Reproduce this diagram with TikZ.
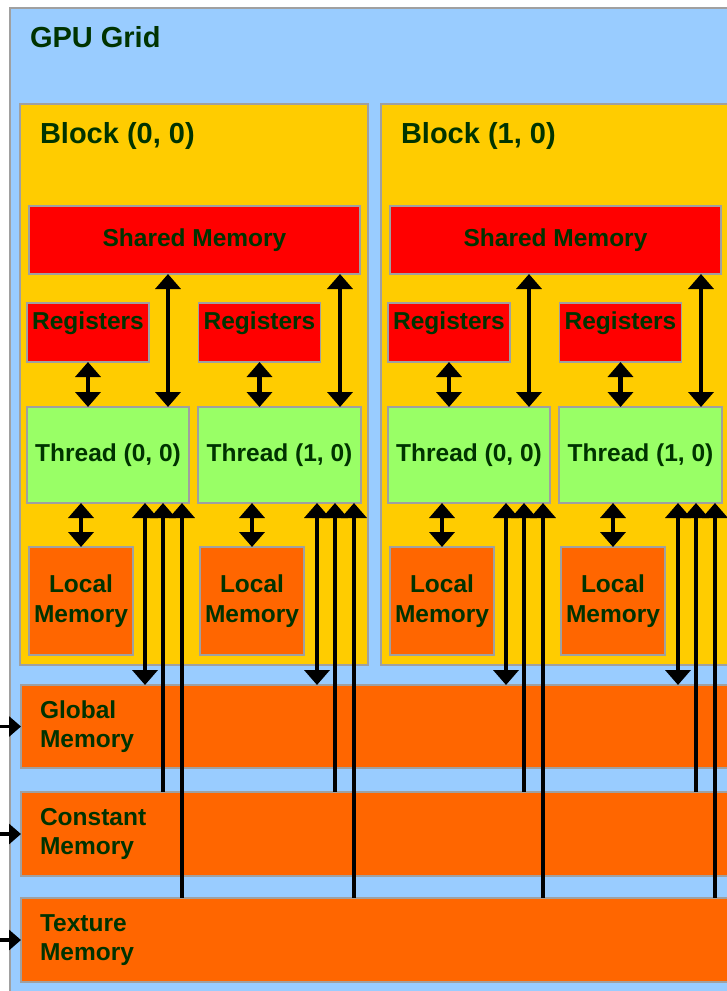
\documentclass[tikz,border=0pt]{standalone}
\usepackage{fontspec}
\setmainfont{Liberation Sans}
\usetikzlibrary{arrows.meta}
\definecolor{gridblue}{HTML}{99CCFF}
\definecolor{blockyellow}{HTML}{FFCC00}
\definecolor{memred}{HTML}{FF0000}
\definecolor{thrgreen}{HTML}{99FF66}
\definecolor{memorange}{HTML}{FF6600}
\definecolor{bordergray}{HTML}{A0A0A0}
\definecolor{txtgreen}{HTML}{003300}
\begin{document}
\begin{tikzpicture}[x=1pt,y=-1pt,
  box/.style={draw=bordergray, line width=1.5pt, inner sep=0pt, outer sep=0pt},
  txt/.style={text=txtgreen, inner sep=0pt, outer sep=0pt, font=\bfseries\fontsize{24.5}{29.5}\selectfont},
  ttl/.style={text=txtgreen, inner sep=0pt, outer sep=0pt, font=\bfseries\fontsize{29}{34}\selectfont},
  tip/.tip={Triangle[width=25pt,length=15pt]},
  dbl/.style={line width=4.5pt, tip-tip},
  uparr/.style={line width=4.5pt, tip-},
  inarr/.style={line width=3.5pt, -{Triangle[width=20pt,length=12pt]}}
]
\useasboundingbox (0,0) rectangle (727,991);
\clip (0,0) rectangle (727,991);
% grid
\node[box, fill=gridblue, minimum width=760pt, minimum height=1010pt] (grid) at (390,513) {};
\node[ttl, anchor=base west] (gridt) at (30,47) {GPU Grid};
% blocks
\foreach \dx/\b/\bn in {0/a/0,361/b/1}{
  \node[box, fill=blockyellow, minimum width=348pt, minimum height=561pt] (blk\b) at (194+\dx,384.5) {};
  \node[ttl, anchor=base west] (blkt\b) at (40+\dx,143) {Block (\bn, 0)};
  \node[box, fill=memred, minimum width=331pt, minimum height=68pt, txt] (shm\b) at (194.5+\dx,240) {Shared Memory};
  \node[box, fill=memred, minimum width=122pt, minimum height=59pt] (rga\b) at (88+\dx,332.5) {};
  \node[box, fill=memred, minimum width=122pt, minimum height=59pt] (rgb\b) at (259.5+\dx,332.5) {};
  \node[txt, anchor=base] (rgta\b) at (88+\dx,329) {Registers};
  \node[txt, anchor=base] (rgtb\b) at (259.5+\dx,329) {Registers};
  \node[box, fill=thrgreen, minimum width=162pt, minimum height=96pt, txt] (tha\b) at (108+\dx,455) {Thread (0, 0)};
  \node[box, fill=thrgreen, minimum width=163pt, minimum height=96pt, txt] (thb\b) at (279.5+\dx,455) {Thread (1, 0)};
  \node[box, fill=memorange, minimum width=104pt, minimum height=108pt, txt, align=center] (lca\b) at (81+\dx,601) {Local\\Memory};
  \node[box, fill=memorange, minimum width=104pt, minimum height=108pt, txt, align=center] (lcb\b) at (252+\dx,601) {Local\\Memory};
}
% device memories
\node[box, fill=memorange, minimum width=740pt, minimum height=83pt] (glob) at (391,726.5) {};
\node[box, fill=memorange, minimum width=740pt, minimum height=84pt] (cons) at (391,834) {};
\node[box, fill=memorange, minimum width=740pt, minimum height=84pt] (text) at (391,940) {};
\node[txt, anchor=west, align=left] (globt) at (40,726.5) {Global\\Memory};
\node[txt, anchor=west, align=left] (const) at (40,834) {Constant\\Memory};
\node[txt, anchor=west, align=left] (textt) at (40,940) {Texture\\Memory};
% incoming arrows
\draw[inarr] ([xshift=-25pt]glob.west) -- (glob.west);
\draw[inarr] ([xshift=-25pt]cons.west) -- (cons.west);
\draw[inarr] ([xshift=-25pt]text.west) -- (text.west);
% arrows inside blocks
\foreach \b in {a,b}{
  \foreach \t in {a,b}{
    \draw[dbl] (rg\t\b.south) -- (rg\t\b.south |- th\t\b.north);
    \draw[dbl] (th\t\b.south -| lc\t\b.north) -- (lc\t\b.north);
    \coordinate (s\t\b) at ([xshift=-21pt]th\t\b.north east);
    \draw[dbl] (s\t\b |- shm\b.south) -- (s\t\b);
    \coordinate (g\t\b) at ([xshift=-44pt]th\t\b.south east);
    \coordinate (c\t\b) at ([xshift=-26pt]th\t\b.south east);
    \coordinate (x\t\b) at ([xshift=-7pt]th\t\b.south east);
    \draw[uparr] (x\t\b) -- (x\t\b |- text.north);
    \draw[uparr] (c\t\b) -- (c\t\b |- cons.north);
    \draw[dbl] (g\t\b) -- (g\t\b |- glob.north);
  }
}
\end{tikzpicture}
\end{document}
